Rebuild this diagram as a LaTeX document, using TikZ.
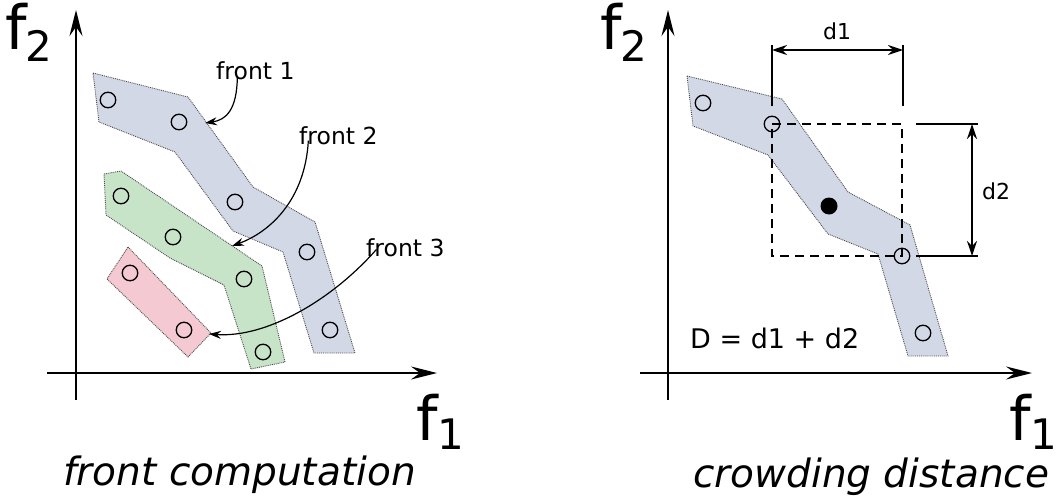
\documentclass[tikz,border=0pt]{standalone}
\usepackage{fontspec}
\setmainfont{DejaVu Sans}
\usetikzlibrary{arrows.meta}
\definecolor{fblue}{HTML}{D3D8E7}
\definecolor{fgreen}{HTML}{C8E4C8}
\definecolor{fred}{HTML}{F4C9D1}
\definecolor{edgegray}{HTML}{4A4A4A}
\begin{document}
\begin{tikzpicture}[x=1pt,y=-1pt,
  pt/.style={circle,draw,line width=1.3pt,minimum size=15.5pt,inner sep=0pt},
  bigpt/.style={circle,fill,minimum size=17pt,inner sep=0pt},
  region/.style={draw=edgegray,densely dotted,line width=0.9pt},
  axis/.style={line width=1.6pt,-{Stealth[length=26pt,width=13pt,inset=9pt]}},
  lbl/.style={inner sep=0pt,anchor=base west,font=\fontsize{23.5}{24}\selectfont},
  dlbl/.style={inner sep=0pt,anchor=base west,font=\fontsize{22}{24}\selectfont},
  bigf/.style={inner sep=0pt,anchor=base west,font=\fontsize{61}{60}\selectfont},
  caption/.style={inner sep=0pt,anchor=base west,font=\fontsize{39}{40}\selectfont\itshape},
  callout/.style={line width=1.2pt,-{Stealth[length=12pt,width=8pt,inset=4pt]}},
  dimline/.style={line width=1.2pt},
  dimarrow/.style={line width=1.2pt,{Stealth[length=15pt,width=10pt,inset=5pt]}-{Stealth[length=15pt,width=10pt,inset=5pt]}},
  boxline/.style={line width=1.1pt,dash pattern=on 9pt off 6pt}
]
\useasboundingbox (0,0) rectangle (1062,503);

% ---------------- left panel ----------------
\coordinate (yl0) at (76,400);
\coordinate (yl1) at (76,10);
\coordinate (xl0) at (47,373);
\coordinate (xl1) at (437,373);
\draw[axis] (yl0) -- (yl1);
\draw[axis] (xl0) -- (xl1);

\node[bigf] (lf2) at (5,50) {f\kern-1.5pt\raisebox{-12pt}{\fontsize{42}{41}\selectfont 2}};
\node[bigf] (lf1) at (416,440) {f\raisebox{-9pt}{\fontsize{42}{41}\selectfont 1}};

% front 1 region
\draw[region,fill=fblue] (93,73) -- (188,97) -- (253,187) -- (315,222) -- (355,353)
  -- (314,353) -- (283,252) -- (233,231) -- (175,152) -- (99,122) -- cycle;
% front 2 region
\draw[region,fill=fgreen] (104,174) -- (121,171) -- (262,266) -- (285,362) -- (251,369)
  -- (224,285) -- (170,258) -- (106,215) -- cycle;
% front 3 region
\draw[region,fill=fred] (128,247) -- (211,333) -- (188,357) -- (107,279) -- cycle;

\node[pt] (a1) at (108,100) {};
\node[pt] (a2) at (179,122) {};
\node[pt] (a3) at (235,202) {};
\node[pt] (a4) at (307,252) {};
\node[pt] (a5) at (330,330) {};
\node[pt] (b1) at (121,196) {};
\node[pt] (b2) at (173,237) {};
\node[pt] (b3) at (244,279) {};
\node[pt] (b4) at (263,352) {};
\node[pt] (c1) at (130,273) {};
\node[pt] (c2) at (184,330) {};

\node[lbl] (fr1) at (216,79) {front 1};
\node[lbl] (fr2) at (299,144) {front 2};
\node[lbl] (fr3) at (366,256) {front 3};

\coordinate (t1) at (205,123);
\coordinate (t2) at (232,246);
\coordinate (t3) at (209,334);
\draw[callout] ([xshift=-18pt,yshift=3pt]fr1.south) .. controls (237,110) and (226,120) .. (t1);
\draw[callout] ([xshift=-30pt,yshift=4pt]fr2.south) .. controls (305,200) and (270,232) .. (t2);
\draw[callout] ([xshift=-29pt,yshift=7pt]fr3.south) .. controls (330,302) and (265,338) .. (t3);

\node[caption] (cap1) at (63,485) {front computation};

% ---------------- right panel ----------------
\coordinate (yr0) at (668,400);
\coordinate (yr1) at (668,10);
\coordinate (xr0) at (640,373);
\coordinate (xr1) at (1032,373);
\draw[axis] (yr0) -- (yr1);
\draw[axis] (xr0) -- (xr1);

\node[bigf] (rf2) at (600,50) {f\kern-1.5pt\raisebox{-12pt}{\fontsize{42}{41}\selectfont 2}};
\node[bigf] (rf1) at (1009,440) {f\raisebox{-9pt}{\fontsize{42}{41}\selectfont 1}};

\draw[region,fill=fblue] (687,76) -- (782,99) -- (848,192) -- (910,225) -- (948,356)
  -- (908,356) -- (878,254) -- (828,234) -- (768,155) -- (693,126) -- cycle;

\node[pt] (p1) at (703,103) {};
\node[pt] (p2) at (772,124) {};
\node[bigpt] (p3) at (829,206) {};
\node[pt] (p4) at (902,256) {};
\node[pt] (p5) at (923,333) {};

% dashed box
\draw[boxline] (p2.center) -- (p2.center -| p4.center) -- (p4.center) -- (p4.center -| p2.center) -- cycle;

% d1 extension lines and arrow
\coordinate (e1a) at (772,45);
\coordinate (e1b) at (772,106);
\coordinate (e2a) at (903,45);
\coordinate (e2b) at (903,106);
\draw[dimline] (e1a) -- (e1b);
\draw[dimline] (e2a) -- (e2b);
\coordinate (d1l) at (772,50);
\coordinate (d1r) at (903,50);
\draw[dimarrow] (d1l) -- (d1r);
\node[dlbl] (d1t) at (823,40) {d1};

% d2 extension lines and arrow
\coordinate (e3a) at (916,124);
\coordinate (e3b) at (978,124);
\coordinate (e4a) at (916,256);
\coordinate (e4b) at (978,256);
\draw[dimline] (e3a) -- (e3b);
\draw[dimline] (e4a) -- (e4b);
\coordinate (d2t) at (972,124);
\coordinate (d2b) at (972,256);
\draw[dimarrow] (d2t) -- (d2b);
\node[dlbl] (d2l) at (982,199) {d2};

\node[inner sep=0pt,anchor=base west,font=\fontsize{27}{28}\selectfont] (deq) at (690,348) {D = d1 + d2};

\node[caption] (cap2) at (693,487) {crowding distance};
\end{tikzpicture}
\end{document}
